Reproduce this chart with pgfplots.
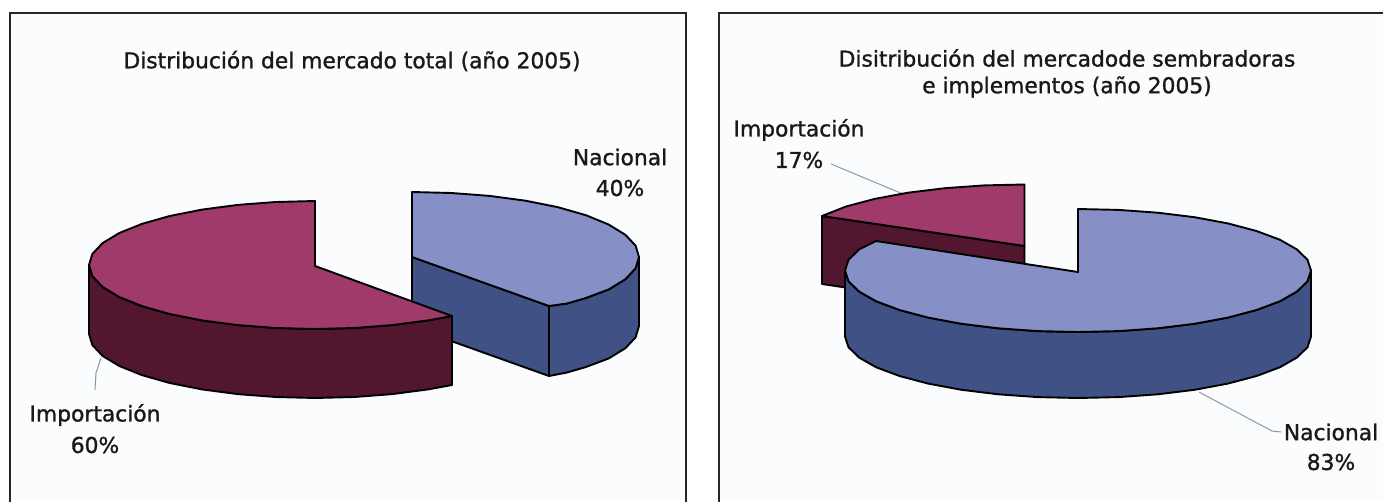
\documentclass[border=0pt]{standalone}
\usepackage{fontspec}
\setmainfont[FakeBold=1.2]{DejaVu Sans}
\usepackage{pgfplots}
\pgfplotsset{compat=1.18}
\definecolor{panel}{HTML}{FBFCFE}
\definecolor{redtop}{HTML}{A03A6A}
\definecolor{redside}{HTML}{52162F}
\definecolor{bluetop}{HTML}{8790C6}
\definecolor{blueside}{HTML}{405285}
\definecolor{leader}{HTML}{8A9A9E}
\tikzset{
  lab/.style={font=\fontsize{21.8}{25}\selectfont, text=black!90, align=center, inner sep=0pt},
  face/.style={draw=black, line width=1.9pt, line join=round},
  frame/.style={draw=black!85, line width=2pt, line join=miter},
  lead/.style={draw=leader, line width=1pt},
}
\pgfplotsset{
  pixelaxis/.style={
    scale only axis, hide axis, height=501pt, ymin=0, ymax=501, y dir=reverse,
    clip=true},
}
\begin{document}
\begin{tikzpicture}
\path[use as bounding box] (0pt,0pt) rectangle (1383pt,501pt);
% left panel: mercado total
\begin{axis}[pixelaxis, at={(0pt,0pt)}, anchor=south west, width=700pt, xmin=0, xmax=700]
\addplot[fill=panel, draw=none] coordinates {(10,13)(686,13)(686,501)(10,501)} -- cycle;
\addplot[frame] coordinates {(10,505)(10,13)(686,13)(686,505)};
\addplot[lead] coordinates {(101,358)(96,373)(95,390)};
% Nacional 40%
\addplot[face, fill=blueside] coordinates {(412,257)(549,306)(549,376)(412,327)} -- cycle;
\addplot[face, fill=blueside] coordinates {(639,257)(639,326)(635.6,337.3)(625.4,348.2)(608.6,358.5)(585.9,367)(567,372.5)(549,376)(549,306)(567,303.5)(585.9,298)(608.6,289.5)(625.4,279.2)(635.6,268.3)} -- cycle;
\addplot[face, fill=bluetop] coordinates {(412,192)(451.5,193)(489.6,195.9)(525.5,200.7)(558,207.2)(585.9,215.2)(608.6,224.5)(625.4,234.8)(635.6,245.7)(639,257)(635.6,268.3)(625.4,279.2)(608.6,289.5)(585.9,298)(567,303.5)(549,306)(412,257)} -- cycle;
% Importacion 60%
\addplot[face, fill=redside] coordinates {(89,265)(92.4,276.1)(102.6,286.9)(119.3,297)(141.9,306.1)(169.7,314)(202,320.4)(237.7,325.1)(275.7,328)(315,329)(354.3,328)(392.3,325.1)(428,320.4)(452,316)(452,385)(428,389.4)(392.3,394.1)(354.3,397)(315,398)(275.7,397)(237.7,394.1)(202,389.4)(169.7,383)(141.9,375.1)(119.3,366)(102.6,355.9)(92.4,345.1)(89,334)} -- cycle;
\addplot[face, fill=redtop] coordinates {(315,201)(275.7,202)(237.7,204.9)(202,209.6)(169.7,216)(141.9,223.9)(119.3,233)(102.6,243.1)(92.4,253.9)(89,265)(92.4,276.1)(102.6,286.9)(119.3,297)(141.9,306.1)(169.7,314)(202,320.4)(237.7,325.1)(275.7,328)(315,329)(354.3,328)(392.3,325.1)(428,320.4)(452,316)(315,266)} -- cycle;
\node[lab] at (axis cs:352,61) {Distribución del mercado total (año 2005)};
\node[lab] at (axis cs:620,157) {Nacional};
\node[lab] at (axis cs:620,188) {40\%};
\node[lab] at (axis cs:95,415) {Importación};
\node[lab] at (axis cs:95,445) {60\%};
\end{axis}
% right panel: sembradoras e implementos
\begin{axis}[pixelaxis, at={(700pt,0pt)}, anchor=south west, width=683pt, xmin=700, xmax=1383]
\addplot[fill=panel, draw=none] coordinates {(719,13)(1390,13)(1390,501)(719,501)} -- cycle;
\addplot[frame] coordinates {(719,505)(719,13)(1390,13)};
\addplot[lead] coordinates {(831,164)(903,194)};
\addplot[lead] coordinates {(1199,392)(1272,431)(1281,432)};
% Importacion 17%
\addplot[face, fill=redside] coordinates {(822,216)(1024.5,246)(1024.5,314)(822,284)} -- cycle;
\addplot[face, fill=redtop] coordinates {(1024.5,184.5)(984,185.4)(944.8,188.2)(908,192.7)(874.7,198.9)(846,206.5)(822,216)(1024.5,246)} -- cycle;
% Nacional 83%
\addplot[face, fill=blueside] coordinates {(845,270.5)(848.5,281.2)(859,291.5)(876.2,301.3)(899.5,310)(928.2,317.6)(961.5,323.8)(998.3,328.3)(1037.5,331.1)(1078,332)(1118.5,331.1)(1157.7,328.3)(1194.5,323.8)(1227.8,317.6)(1256.5,310)(1279.8,301.3)(1297,291.5)(1307.5,281.2)(1311,270.5)(1311,336.5)(1307.5,347.2)(1297,357.5)(1279.8,367.3)(1256.5,376)(1227.8,383.6)(1194.5,389.8)(1157.7,394.3)(1118.5,397.1)(1078,398)(1037.5,397.1)(998.3,394.3)(961.5,389.8)(928.2,383.6)(899.5,376)(876.2,367.3)(859,357.5)(848.5,347.2)(845,336.5)} -- cycle;
\addplot[face, fill=bluetop] coordinates {(1078,209)(1118.5,209.9)(1157.7,212.7)(1194.5,217.2)(1227.8,223.4)(1256.5,231)(1279.8,239.7)(1297,249.5)(1307.5,259.8)(1311,270.5)(1307.5,281.2)(1297,291.5)(1279.8,301.3)(1256.5,310)(1227.8,317.6)(1194.5,323.8)(1157.7,328.3)(1118.5,331.1)(1078,332)(1037.5,331.1)(998.3,328.3)(961.5,323.8)(928.2,317.6)(899.5,310)(876.2,301.3)(859,291.5)(848.5,281.2)(845,270.5)(848.5,259.8)(859,249.5)(876,241)(1078,272)} -- cycle;
\node[lab] at (axis cs:1067,58) {Disitribución del mercadode sembradoras};
\node[lab] at (axis cs:1067,87) {e implementos (año 2005)};
\node[lab] at (axis cs:799,130) {Importación};
\node[lab] at (axis cs:799,160) {17\%};
\node[lab] at (axis cs:1331,432) {Nacional};
\node[lab] at (axis cs:1331,462) {83\%};
\end{axis}
\end{tikzpicture}
\end{document}
